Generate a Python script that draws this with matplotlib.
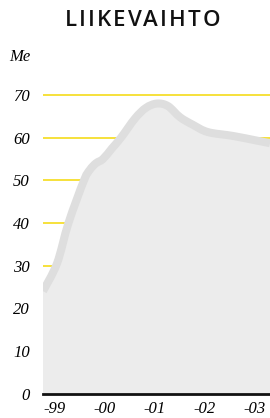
import matplotlib
matplotlib.use("Agg")
import matplotlib.pyplot as plt
from matplotlib.path import Path
from matplotlib.patches import PathPatch
import numpy as np

# Data (x in years relative to 1999; y in M€)
years_x = [-0.24, 0.04, 0.27, 0.58, 0.70, 0.82, 0.96, 1.14, 1.32, 1.60, 1.82,
           2.04, 2.26, 2.50, 2.76, 3.06, 3.56, 4.04, 4.30]
revenue = [24.0, 30.5, 40.0, 50.0, 52.5, 54.0, 55.0, 57.5, 60.0, 64.5, 67.0,
           68.0, 67.4, 64.8, 63.0, 61.3, 60.4, 59.3, 58.7]
tick_pos = [0, 1, 2, 3, 4]
tick_labels = ["-99", "-00", "-01", "-02", "-03"]
y_ticks = [0, 10, 20, 30, 40, 50, 60, 70]
grid_vals = [30, 40, 50, 60, 70]
title = "LIIKEVAIHTO"
unit = "Me"


def smooth_path(xs, ys):
    """Catmull-Rom spline through the points, as cubic Bezier path codes."""
    P = np.column_stack([xs, ys]).astype(float)
    n = len(P)
    verts = [P[0]]
    codes = [Path.MOVETO]
    for i in range(n - 1):
        p0 = P[i - 1] if i > 0 else P[i]
        p1, p2 = P[i], P[i + 1]
        p3 = P[i + 2] if i + 2 < n else P[i + 1]
        c1 = p1 + (p2 - p0) / 6.0
        c2 = p2 - (p3 - p1) / 6.0
        verts += [c1, c2, p2]
        codes += [Path.CURVE4] * 3
    return verts, codes


fig = plt.figure(figsize=(2.70, 4.18), dpi=100)
ax = fig.add_axes([43 / 270, 24.5 / 418, 227 / 270, 313.5 / 418])
ax.set_xlim(-0.24, 4.30)
ax.set_ylim(0, 73.52)

for v in grid_vals:
    ax.axhline(v, color="#f5dc1a", lw=1.2, zorder=1)

verts, codes = smooth_path(years_x, revenue)
fverts = list(verts) + [(years_x[-1], 0), (years_x[0], 0), verts[0]]
fcodes = list(codes) + [Path.LINETO, Path.LINETO, Path.CLOSEPOLY]
ax.add_patch(PathPatch(Path(fverts, fcodes), facecolor="#ececec", edgecolor="none", zorder=2))
ax.add_patch(PathPatch(Path(verts, codes), facecolor="none", edgecolor="#dedede",
                       lw=5.8, zorder=3, capstyle="butt", joinstyle="round"))
ax.axhline(0, color="#111111", lw=2.0, zorder=4, clip_on=False)

for s in ax.spines.values():
    s.set_visible(False)

serif = {"family": "Liberation Serif", "style": "italic", "size": 12}
ax.set_yticks(y_ticks)
ax.set_yticklabels([str(v) for v in y_ticks], fontdict=serif)
ax.set_xticks(tick_pos)
ax.set_xticklabels(tick_labels, fontdict=serif)
ax.tick_params(axis="y", length=0, pad=9.5)
ax.tick_params(axis="x", length=0, pad=5.5)

# title with letter tracking
renderer = fig.canvas.get_renderer()
tprops = dict(fontsize=16, fontweight="semibold", family="Open Sans", color="#111111")
widths = []
for ch in title:
    t = fig.text(0, 0, ch, **tprops)
    widths.append(t.get_window_extent(renderer).width)
    t.remove()
track = 2.0
total = sum(widths) + track * (len(title) - 1)
x0 = 142.5 - total / 2
for ch, w in zip(title, widths):
    fig.text(x0 / 270, 1 - 20 / 418, ch, ha="left", va="center", **tprops)
    x0 += w + track

fig.text(9 / 270, 1 - 57 / 418, unit, ha="left", va="center", **serif)

fig.savefig("out.png", dpi=100)
